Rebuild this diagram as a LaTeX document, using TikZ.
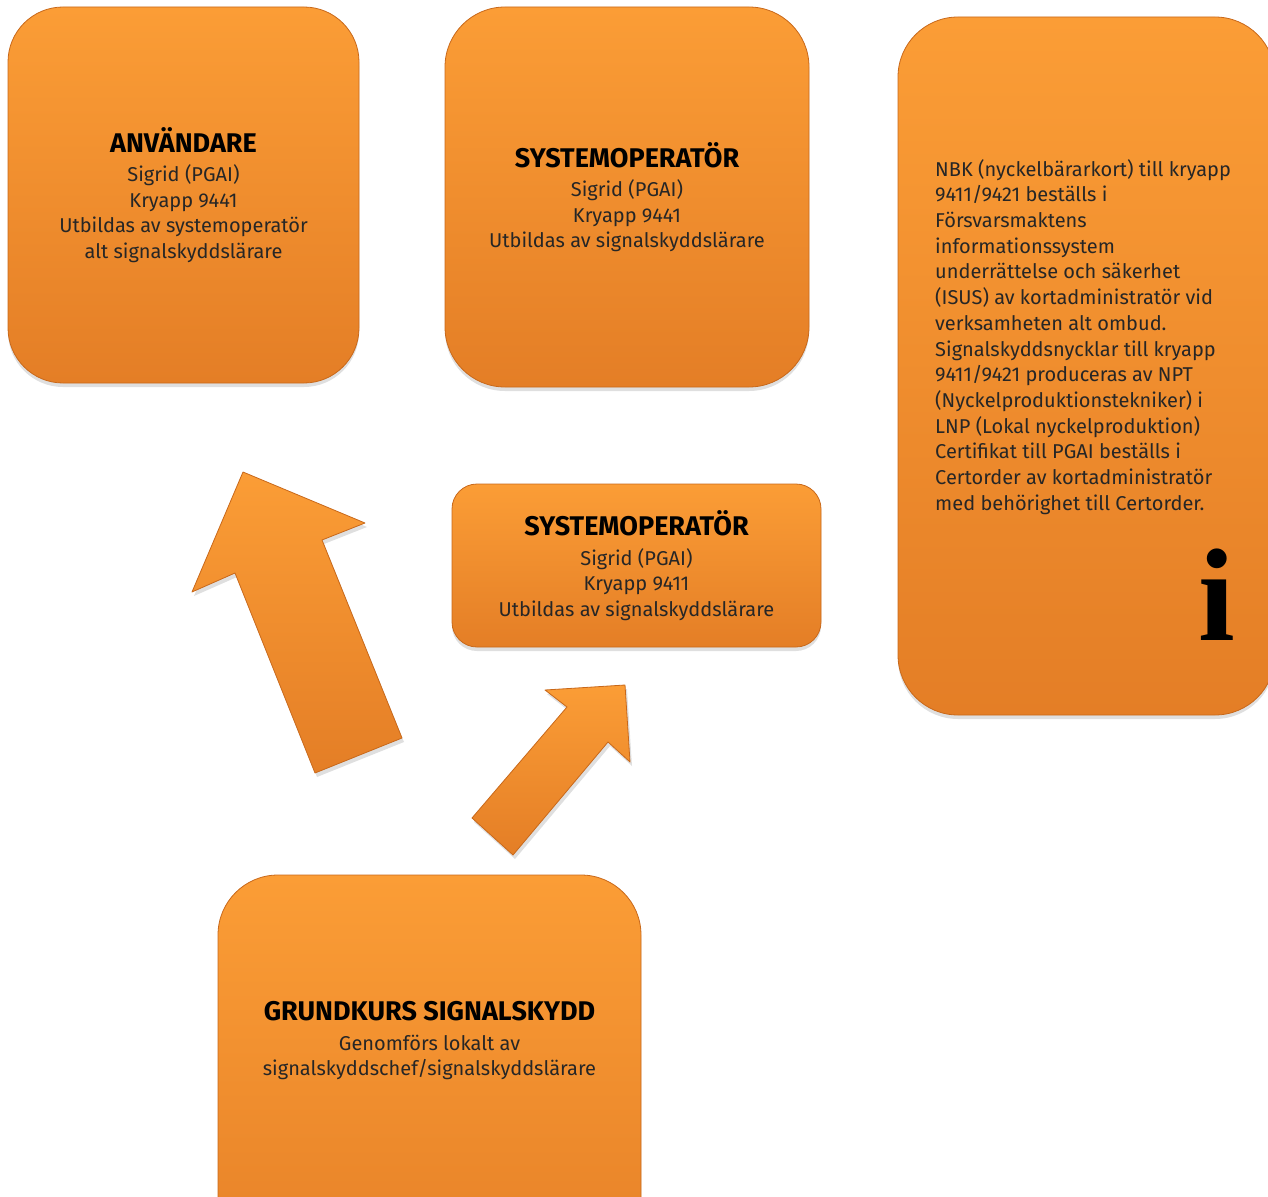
\documentclass[tikz,border=0pt]{standalone}
\usepackage{fontspec}
\setmainfont{Fira Sans}
\newfontfamily\bigserif{Liberation Serif}
\usetikzlibrary{shadows,positioning}

\definecolor{orangetop}{RGB}{251,157,54}
\definecolor{orangebot}{RGB}{228,126,38}
\definecolor{orangeedge}{RGB}{200,104,26}

\tikzset{
  card/.style={rounded corners=#1, draw=orangeedge, line width=0.8pt,
    top color=orangetop, bottom color=orangebot, align=center,
    font=\fontsize{20}{25.5}\selectfont, text=black!85,
    drop shadow={opacity=0.25, shadow xshift=0pt, shadow yshift=-4pt}},
  cardtext/.style={align=center, font=\fontsize{20}{25.5}\selectfont, text=black!85},
  bigarrow/.style={draw=orangeedge, line width=0.8pt, top color=orangetop,
    bottom color=orangebot, line join=round,
    drop shadow={opacity=0.25, shadow xshift=2pt, shadow yshift=-4pt}},
}
\newcommand{\heading}[1]{{\fontsize{27}{29}\selectfont\bfseries\color{black} #1}\\[4pt]}

\begin{document}
\begin{tikzpicture}[x=1pt, y=-1pt]
  \useasboundingbox (0,0) rectangle (1268,1196);
  \clip (0,0) rectangle (1268,1196);

  % boxes
  \node[card=55pt, minimum width=351pt, minimum height=376pt] (user) at (183.5,195)
    {\heading{ANVÄNDARE} Sigrid (PGAI)\\ Kryapp 9441\\ Utbildas av systemoperatör\\ alt signalskyddslärare};
  \node[card=60pt, minimum width=364pt, minimum height=380pt] (sysop) at (627,197)
    {\heading{SYSTEMOPERATÖR} Sigrid (PGAI)\\ Kryapp 9441\\ Utbildas av signalskyddslärare};
  \node[card=25pt, minimum width=369pt, minimum height=163pt] (sysopmid) at (636.5,565.5)
    {\heading{SYSTEMOPERATÖR} Sigrid (PGAI)\\ Kryapp 9411\\ Utbildas av signalskyddslärare};
  \node[card=60pt, minimum width=423pt, minimum height=440pt] (course) at (429.5,1095) {};
  \node[cardtext] (coursetext) at (429.5,1041)
    {\heading{GRUNDKURS SIGNALSKYDD} Genomförs lokalt av\\ signalskyddschef/signalskyddslärare};

  % info box
  \node[card=60pt, minimum width=377pt, minimum height=698pt] (info) at (1086.5,366) {};
  \node[anchor=north west, align=left, font=\fontsize{20}{25.7}\selectfont, text=black!85,
    inner sep=0pt] (infotext) at (935,159)
    {NBK (nyckelbärarkort) till kryapp\\ 9411/9421 beställs i\\ Försvarsmaktens\\
     informationssystem\\ underrättelse och säkerhet\\ (ISUS) av kortadministratör vid\\
     verksamheten alt ombud.\\ Signalskyddsnycklar till kryapp\\ 9411/9421 produceras av NPT\\
     (Nyckelproduktionstekniker) i\\ LNP (Lokal nyckelproduktion)\\ Certifikat till PGAI beställs i\\
     Certorder av kortadministratör\\ med behörighet till Certorder.};
  \node[font=\bigserif\bfseries\fontsize{132}{132}\selectfont, inner sep=0pt] (icon) at (1217,595) {i};

  % arrows
  \draw[bigarrow] (243,472) -- (365,523) -- (322,540) -- (402,738) -- (315,773)
    -- (235,573) -- (192,592) -- cycle;
  \draw[bigarrow] (625,685) -- (630,762) -- (608,742) -- (513,855) -- (472,818)
    -- (567,707) -- (545,690) -- cycle;
\end{tikzpicture}
\end{document}
